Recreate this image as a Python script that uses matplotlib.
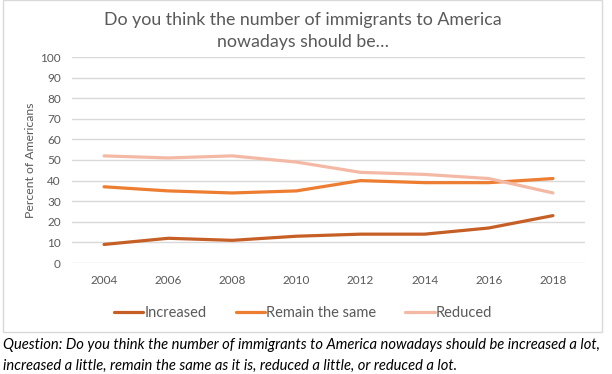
import matplotlib
matplotlib.use("Agg")
import matplotlib.pyplot as plt
from matplotlib.patches import Rectangle

plt.rcParams['font.family'] = ['Lato', 'DejaVu Sans']

years = ["2004", "2006", "2008", "2010", "2012", "2014", "2016", "2018"]
increased = [9, 12, 11, 13, 14, 14, 17, 23]
remain_same = [37, 35, 34, 35, 40, 39, 39, 41]
reduced = [52, 51, 52, 49, 44, 43, 41, 34]
series_names = ["Increased", "Remain the same", "Reduced"]
colors = ["#C55F25", "#ED7D31", "#F4B9A5"]
yticks = list(range(0, 101, 10))

W, H = 612, 374
fig = plt.figure(figsize=(W / 100, H / 100), dpi=100)

# chart border
fig.patches.append(Rectangle((3 / W, 1 - 332 / H), (602 - 3) / W, (332 - 0) / H,
                             transform=fig.transFigure, fill=False,
                             edgecolor="#D9D9D9", linewidth=1))

ax = fig.add_axes([72 / W, 1 - 263 / H, (585 - 72) / W, (263 - 57) / H])
x = list(range(len(years)))
for vals, name, c in zip([increased, remain_same, reduced], series_names, colors):
    ax.plot(x, vals, color=c, linewidth=2.3, label=name, solid_capstyle="round")

ax.set_xlim(-0.5, len(years) - 0.5)
ax.set_ylim(0, 100)
ax.set_yticks(yticks)
ax.set_xticks(x)
ax.set_xticklabels(years)
ax.grid(axis="y", color="#D9D9D9", linewidth=1)
ax.set_axisbelow(True)
for s in ax.spines.values():
    s.set_visible(False)
ax.tick_params(axis="both", length=0, labelsize=8.5, colors="#595959", pad=8)
ax.tick_params(axis="x", pad=9)
ax.set_ylabel("Percent of Americans", fontsize=8.8, color="#595959", labelpad=3)

fig.text(303 / W, 1 - 20 / H, "Do you think the number of immigrants to America",
         ha="center", va="center", fontsize=12.8, color="#595959")
fig.text(303 / W, 1 - 42 / H, "nowadays should be…",
         ha="center", va="center", fontsize=12.8, color="#595959")

leg = fig.legend(loc="center", bbox_to_anchor=(303 / W, 1 - 313 / H), ncol=3,
                 frameon=False, fontsize=10.5, handlelength=2.0, handletextpad=0.1,
                 columnspacing=2.0)
for t in leg.get_texts():
    t.set_color("#595959")

fig.text(3 / W, 1 - 345 / H,
         "Question: Do you think the number of immigrants to America nowadays should be increased a lot,",
         ha="left", va="center", fontsize=10.6, style="italic", color="black")
fig.text(3 / W, 1 - 366 / H,
         "increased a little, remain the same as it is, reduced a little, or reduced a lot.",
         ha="left", va="center", fontsize=10.6, style="italic", color="black")

fig.savefig("out.png", dpi=100)
